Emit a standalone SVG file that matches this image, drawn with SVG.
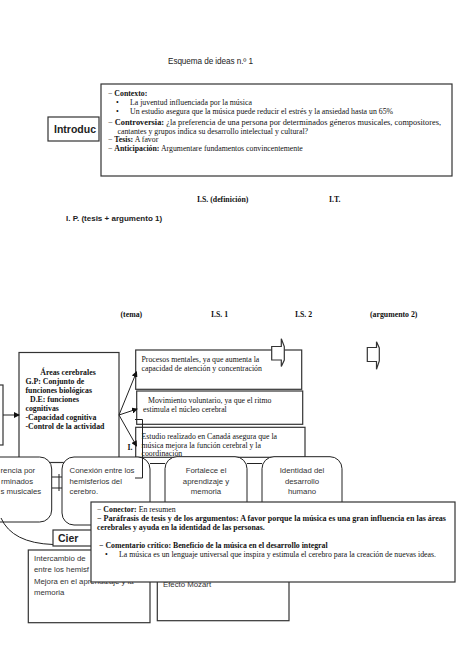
<svg xmlns="http://www.w3.org/2000/svg" width="474" height="670" viewBox="0 0 474 670">
<defs>
<marker id="ah" markerWidth="6" markerHeight="6" refX="5" refY="3" orient="auto" markerUnits="userSpaceOnUse">
<path d="M0,0 L6,3 L0,6 Z" fill="#111"/>
</marker>
</defs>
<style>
.box{fill:#fff;stroke:#333;stroke-width:1.2}
.rb{fill:#fff;stroke:#222;stroke-width:1}
.ln{fill:none;stroke:#222;stroke-width:1}
.s{font-family:"Liberation Serif","Times New Roman",serif;font-size:7.8px;fill:#111}
.b{font-weight:bold}
.sa{font-family:"Liberation Sans",Arial,sans-serif;fill:#222}
.rt{font-family:"Liberation Sans",Arial,sans-serif;font-size:7.8px;fill:#333}
</style>
<rect width="474" height="670" fill="#fff"/>
<text class="sa" x="168" y="64" font-size="8.2" textLength="85">Esquema de ideas n.º 1</text>

<g id="intro">
<rect class="box" x="101" y="84" width="351" height="92"/>
<rect class="box" x="48" y="117" width="51" height="24"/>
<text class="sa b" x="54" y="133" font-size="10.5">Introduc</text>
<text class="s" x="108" y="95.5">− <tspan class="b">Contexto:</tspan></text>
<text class="s" x="116" y="104.5">•</text>
<text class="s" x="130" y="104.5">La juventud influenciada por la música</text>
<text class="s" x="116" y="113.5">•</text>
<text class="s" x="130" y="113.5">Un estudio asegura que la música puede reducir el estrés y la ansiedad hasta un 65%</text>
<text class="s" x="108" y="124.5" textLength="333" lengthAdjust="spacingAndGlyphs">− <tspan class="b">Controversia:</tspan> ¿la preferencia de una persona por determinados géneros musicales, compositores,</text>
<text class="s" x="117.5" y="133.5">cantantes y grupos indica su desarrollo intelectual y cultural?</text>
<text class="s" x="108" y="141.5">− <tspan class="b">Tesis:</tspan>  A favor</text>
<text class="s" x="108" y="150.5">− <tspan class="b">Anticipación:</tspan> Argumentare fundamentos convincentemente</text>
</g>

<g id="labels">
<text class="s b" x="197" y="202" font-size="8.4">I.S. (definición)</text>
<text class="s b" x="329" y="202" font-size="8.4">I.T.</text>
<text class="sa b" x="66" y="221" font-size="8">I. P. (tesis + argumento 1)</text>
<text class="s b" x="120.5" y="317" font-size="6.8">(tema)</text>
<text class="s b" x="211" y="317" font-size="6.8">I.S. 1</text>
<text class="s b" x="295" y="317" font-size="6.8">I.S. 2</text>
<text class="s b" x="370" y="317" font-size="6.8">(argumento 2)</text>
</g>

<g id="left-box">
<rect class="box" x="-10" y="385" width="13" height="60"/>
</g>

<g id="areas">
<rect class="box" x="19" y="352.5" width="100" height="110"/>
<text class="s b" x="68" y="375" font-size="8.2" text-anchor="middle">Áreas cerebrales</text>
<text class="s b" x="25.5" y="384" font-size="8.2">G.P: Conjunto de</text>
<text class="s b" x="25.5" y="393" font-size="8.2">funciones biológicas</text>
<text class="s b" x="30" y="402" font-size="8.2">D.E: funciones</text>
<text class="s b" x="25.5" y="411" font-size="8.2">cognitivas</text>
<text class="s b" x="25.5" y="420" font-size="8.2">-Capacidad cognitiva</text>
<text class="s b" x="25.5" y="429" font-size="8.2">-Control de la actividad</text>
</g>

<g id="box1">
<rect class="box" x="135.7" y="350" width="166" height="39.3"/>
<text class="s" x="141.5" y="361.5">Procesos mentales, ya que aumenta la</text>
<text class="s" x="141.5" y="370.5">capacidad de atención y concentración</text>
</g>
<g id="box2">
<rect class="box" x="136.7" y="391" width="166" height="33.3"/>
<text class="s" x="148" y="402.5">Movimiento voluntario, ya que el ritmo</text>
<text class="s" x="143" y="411.5">estimula el núcleo cerebral</text>
</g>
<g id="box3">
<rect class="box" x="135.7" y="427.3" width="169.3" height="30"/>
<text class="s" x="141.5" y="438.5">Estudio realizado en Canadá asegura que la</text>
<text class="s" x="141.5" y="447.5">música mejora la función cerebral y la</text>
<text class="s" x="141.5" y="456">coordinación</text>
<text class="s b" x="127.5" y="449.5" font-size="8">I.</text>
</g>

<g id="block-arrows">
<path class="box" d="M271.7,346.5 H281.3 V338.7 L284.3,346.5 V360 L281.3,366.5 V360 H271.7 Z"/>
<path class="box" d="M367.3,347.5 H376.5 V341.7 L379.3,348 V361 L376.5,369.3 V361.5 H367.3 Z"/>
</g>

<g id="connectors">
<line class="ln" x1="3" y1="415" x2="19" y2="415" marker-end="url(#ah)"/>
<line class="ln" x1="119" y1="415" x2="136.5" y2="372" marker-end="url(#ah)"/>
<line class="ln" x1="119" y1="415" x2="137" y2="409" marker-end="url(#ah)"/>
<line class="ln" x1="119" y1="415" x2="136.5" y2="446" marker-end="url(#ah)"/>
<path class="ln" d="M52,477 H62 M52,488 H62 M59,474 V491"/>
<path class="ln" d="M150,463.5 H165 M247,463.5 H262"/>
</g>

<g id="nodeA">
<rect class="rb" x="-30" y="457" width="81.7" height="65" rx="12"/>
<text class="rt" x="0.5" y="473">rencia por</text>
<text class="rt" x="1" y="483.5">rminados</text>
<text class="rt" x="0.5" y="494">s musicales</text>
</g>
<g id="nodeB">
<rect class="rb" x="62" y="457" width="88" height="68" rx="12"/>
<text class="rt" x="69.5" y="473">Conexión entre los</text>
<text class="rt" x="69.5" y="483.5">hemisferios del</text>
<text class="rt" x="69.5" y="494">cerebro.</text>
</g>
<g id="nodeC">
<rect class="rb" x="165" y="456.7" width="82" height="68" rx="12"/>
<text class="rt" x="206" y="473" text-anchor="middle">Fortalece el</text>
<text class="rt" x="206" y="483.5" text-anchor="middle">aprendizaje y</text>
<text class="rt" x="206" y="494" text-anchor="middle">memoria</text>
</g>
<g id="nodeD">
<rect class="rb" x="262" y="456.7" width="80" height="68" rx="12"/>
<text class="rt" x="302" y="473" text-anchor="middle">Identidad del</text>
<text class="rt" x="302" y="483.5" text-anchor="middle">desarrollo</text>
<text class="rt" x="302" y="494" text-anchor="middle">humano</text>
</g>

<g id="bracket">
<path class="ln" d="M135,419.5 H142.5 V478 H135"/>
<path class="ln" d="M1,518 Q12,543 53,544.5"/>
</g>

<g id="cier">
<rect class="box" x="53" y="530" width="50" height="16"/>
<text class="sa b" x="58" y="542" font-size="10.5">Cier</text>
</g>

<g id="nodeE">
<rect class="box" x="28.3" y="550" width="121.7" height="72.7"/>
<text class="rt" x="34" y="561" font-size="8">Intercambio de</text>
<text class="rt" x="34" y="572" font-size="8">entre los hemisf</text>
<text class="rt" x="34" y="584" font-size="8">Mejora en el aprendizaje y la</text>
<text class="rt" x="34" y="595" font-size="8">memoria</text>
</g>
<g id="nodeF">
<rect class="box" x="157.3" y="550" width="131.7" height="70.7"/>
<text class="rt" x="163" y="586.5" font-size="8">Efecto Mozart</text>
</g>

<g id="cierre">
<rect class="box" x="91" y="502" width="364" height="80"/>
<text class="s" x="97" y="511.5">− <tspan class="b">Conector:</tspan> En resumen</text>
<text class="s b" x="97" y="520.5" textLength="349" lengthAdjust="spacingAndGlyphs">− Paráfrasis de tesis y de los argumentos: A favor porque la música es una gran influencia en las áreas</text>
<text class="s b" x="97" y="529.5">cerebrales y ayuda en la identidad de las personas.</text>
<text class="s b" x="99" y="547.5">− Comentario crítico: Beneficio de la música en el desarrollo integral</text>
<text class="s" x="105" y="556.5">•</text>
<text class="s" x="119" y="556.5">La música es un lenguaje universal que inspira y estimula el cerebro para la creación de nuevas ideas.</text>
</g>
</svg>
